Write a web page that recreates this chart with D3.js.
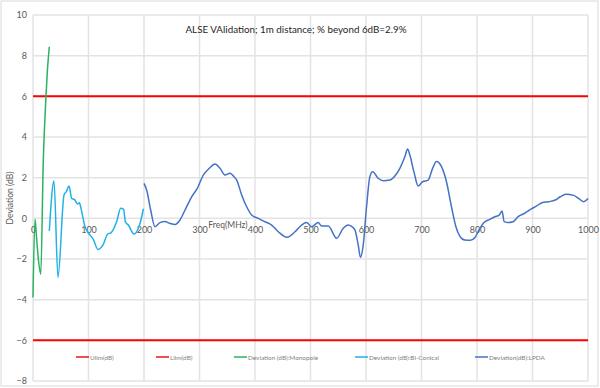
<!DOCTYPE html>
<html>
<head>
<meta charset="utf-8">
<script src="https://cdn.jsdelivr.net/npm/d3@7"></script>
<style>
  body { margin: 0; background: #fff; }
  svg { display: block; font-family: Lato, "Open Sans", sans-serif; }
  .grid line { stroke: #e3e3e3; stroke-width: 1.5; }
</style>
</head>
<body>
<svg id="chart" width="600" height="388"></svg>
<script>
// Data
const monoFreq = [0, 3.6, 6, 10, 14, 18.6, 23.4, 26, 29.4];
const monoDev  = [-3.89, -0.05, -0.8, -2.1, -2.75, 2.9, 6.0, 7.3, 8.44];

const biFreq = [29.4, 37.8, 45, 55.9, 60, 64.9, 69.7, 74.5, 80.5, 83.5, 86.5, 93.7, 99.6, 108.7, 117, 126.7, 134.5, 140.5, 150.8, 158, 163.4, 166.4, 171.8, 182, 192.8, 199];
const biDev  = [-0.62, 1.83, -2.9, 1.15, 1.31, 1.59, 0.98, 0.93, 0.70, 0.77, 0.49, -0.41, -0.71, -1.03, -1.53, -1.28, -0.77, -0.71, -0.16, 0.49, 0.44, -0.17, -0.33, -0.77, -0.25, 0.47];

const lpdaFreq = [200, 204.8, 212, 219.8, 228.8, 237.8, 246.8, 255.9, 264.9, 273.9, 285.9, 296, 306.9, 317.7, 327.9, 337, 346, 355, 362, 367, 376, 385, 394, 406, 418, 430, 442, 458, 472, 484, 493, 502, 514, 520, 532, 547, 559, 568, 574, 580, 586, 590, 595, 601, 607, 612, 622, 631, 643, 652, 661, 670, 675, 679, 687, 694, 702, 712, 720, 727, 736, 745, 754, 762, 769, 778, 788, 796, 802, 811, 823, 832, 840, 845, 849, 856, 865, 874, 886, 898, 907, 917, 929, 941, 950, 960, 974, 983, 992, 1000];
const lpdaDev  = [1.72, 1.39, 0.41, -0.41, -0.21, -0.16, -0.25, -0.3, -0.08, 0.41, 1.06, 1.47, 2.13, 2.46, 2.67, 2.46, 2.13, 2.22, 2.05, 1.88, 1.15, 0.57, 0.16, 0.0, -0.17, -0.33, -0.66, -0.93, -0.66, -0.33, -0.21, -0.41, -0.21, -0.38, -0.38, -0.98, -0.49, -0.33, -0.4, -0.57, -1.31, -1.92, -1.31, 0.57, 2.05, 2.29, 1.97, 1.85, 1.88, 2.08, 2.46, 3.03, 3.41, 3.11, 2.21, 1.59, 1.80, 1.88, 2.46, 2.79, 2.54, 1.80, 0.57, -0.41, -0.87, -1.07, -1.08, -0.95, -0.66, -0.25, -0.05, 0.08, 0.16, 0.36, -0.16, -0.21, -0.17, 0.08, 0.25, 0.46, 0.6, 0.77, 0.82, 0.9, 1.06, 1.18, 1.13, 0.98, 0.82, 0.98];

const ulim = 6, llim = -6;

const xTicks = [0, 100, 200, 300, 400, 500, 600, 700, 800, 900, 1000];
const yTicks = [-8, -6, -4, -2, 0, 2, 4, 6, 8, 10];

const legendNames = ['Ulim(dB)', 'Llim(dB)', 'Deviation (dB):Monopole', 'Deviation (dB):Bi-Conical', 'Deviation(dB):LPDA'];
const legendColors = ['#e8141b', '#e8141b', '#2bb261', '#22b0e6', '#4472c4'];

const svg = d3.select('#chart');
const area = { left: 33, right: 588, top: 15, bottom: 381 };

const x = d3.scaleLinear().domain([0, 1000]).range([area.left, area.right]);
const y = d3.scaleLinear().domain([-8, 10]).range([area.bottom, area.top]);

// outer chart border
svg.append('rect')
  .attr('x', 1).attr('y', 1).attr('width', 597).attr('height', 385)
  .attr('fill', 'none').attr('stroke', '#d9d9d9');

// gridlines
svg.append('g').attr('class', 'grid')
  .selectAll('line').data(yTicks).join('line')
  .attr('x1', area.left).attr('x2', area.right)
  .attr('y1', d => y(d)).attr('y2', d => y(d));
svg.append('g').attr('class', 'grid')
  .selectAll('line').data(xTicks).join('line')
  .attr('x1', d => x(d)).attr('x2', d => x(d))
  .attr('y1', area.top).attr('y2', area.bottom);

// y axis labels
svg.append('g')
  .attr('transform', `translate(${area.left - 6},0)`)
  .call(d3.axisLeft(y).tickValues(yTicks).tickSize(0).tickPadding(0).tickFormat(d3.format('d')))
  .call(g => g.select('.domain').remove())
  .call(g => g.selectAll('text').attr('fill', '#595959').style('font-size', '9px').style('font-family', 'Lato'));

// x axis labels at y = 0
svg.append('g')
  .attr('transform', `translate(0,${y(0) + 8})`)
  .call(d3.axisBottom(x).tickValues(xTicks).tickSize(0).tickPadding(0).tickFormat(d3.format('d')))
  .call(g => g.select('.domain').remove())
  .call(g => g.selectAll('text').attr('fill', '#595959').style('font-size', '9px').style('font-family', 'Lato'));

// limit lines
[ulim, llim].forEach(v => {
  svg.append('line')
    .attr('x1', area.left).attr('x2', area.right)
    .attr('y1', y(v)).attr('y2', y(v))
    .attr('stroke', '#ff0000').attr('stroke-width', 2);
});

const line = d3.line().x(d => x(d[0])).y(d => y(d[1])).curve(d3.curveMonotoneX);
const series = [
  [monoFreq, monoDev, legendColors[2]],
  [biFreq, biDev, legendColors[3]],
  [lpdaFreq, lpdaDev, legendColors[4]]
];
series.forEach(([fs, vs, c]) => {
  svg.append('path')
    .datum(d3.zip(fs, vs))
    .attr('d', line)
    .attr('fill', 'none')
    .attr('stroke', c)
    .attr('stroke-width', 1.5);
});

// titles
svg.append('text')
  .attr('x', 296).attr('y', 33)
  .attr('text-anchor', 'middle')
  .attr('fill', '#262626')
  .style('font-size', '9.8px')
  .text('ALSE VAlidation; 1m distance; % beyond 6dB=2.9%');

svg.append('text')
  .attr('x', 228).attr('y', 228)
  .attr('text-anchor', 'middle')
  .attr('fill', '#595959')
  .style('font-size', '8.5px')
  .text('Freq(MHz)');

svg.append('text')
  .attr('transform', 'translate(13,198) rotate(-90)')
  .attr('text-anchor', 'middle')
  .attr('fill', '#595959')
  .style('font-size', '8.5px')
  .text('Deviation (dB)');

// legend
const legendX = [76, 156, 234, 355, 475];
const lg = svg.append('g').selectAll('g').data(legendNames).join('g')
  .attr('transform', (d, i) => `translate(${legendX[i]},357)`);
lg.append('line')
  .attr('x1', 0).attr('x2', 13)
  .attr('stroke', (d, i) => legendColors[i]).attr('stroke-width', 1.5);
lg.append('text')
  .attr('x', 14).attr('y', 2.5)
  .attr('fill', '#7f7f7f')
  .style('font-size', '6.4px')
  .text(d => d);
</script>
</body>
</html>
